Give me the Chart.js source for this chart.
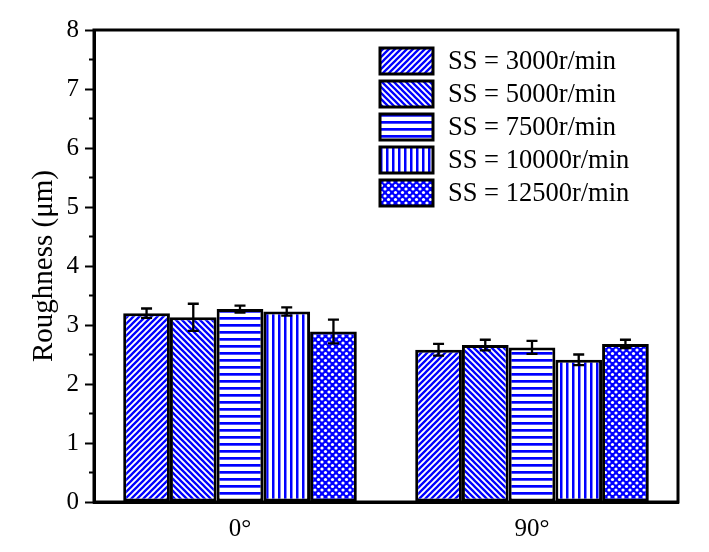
<!DOCTYPE html>
<html>
<head>
<meta charset="utf-8">
<script src="https://cdn.jsdelivr.net/npm/chart.js@4/dist/chart.umd.min.js"></script>
<style>
  html, body { margin: 0; padding: 0; background: #ffffff; }
  #wrap { width: 709px; height: 552px; position: relative; }
</style>
</head>
<body>
<div id="wrap"><canvas id="c" width="709" height="552"></canvas></div>
<script>
// ---- data ----
const categories = ['0°', '90°'];
const seriesLabels = ['SS = 3000r/min', 'SS = 5000r/min', 'SS = 7500r/min', 'SS = 10000r/min', 'SS = 12500r/min'];
const ss3000 = [3.20, 2.58];
const ss5000 = [3.13, 2.66];
const ss7500 = [3.27, 2.62];
const ss10000 = [3.23, 2.41];
const ss12500 = [2.89, 2.68];
const err3000 = [0.08, 0.10];
const err5000 = [0.23, 0.09];
const err7500 = [0.06, 0.11];
const err10000 = [0.07, 0.09];
const err12500 = [0.20, 0.07];
const yTicks = [0, 1, 2, 3, 4, 5, 6, 7, 8];

const BLUE = '#0000ff';
const FONT = "'Liberation Serif', 'Times New Roman', serif";

function makePattern(kind) {
  const c = document.createElement('canvas');
  const ctx = c.getContext('2d');
  let s;
  if (kind === 'fwd' || kind === 'back') {
    s = 6; c.width = s; c.height = s;
    ctx.fillStyle = '#fff'; ctx.fillRect(0, 0, s, s);
    ctx.strokeStyle = BLUE; ctx.lineWidth = 2.3;
    ctx.beginPath();
    if (kind === 'fwd') {
      ctx.moveTo(-1, 1); ctx.lineTo(1, -1);
      ctx.moveTo(0, s); ctx.lineTo(s, 0);
      ctx.moveTo(s - 1, s + 1); ctx.lineTo(s + 1, s - 1);
    } else {
      ctx.moveTo(-1, s - 1); ctx.lineTo(1, s + 1);
      ctx.moveTo(0, 0); ctx.lineTo(s, s);
      ctx.moveTo(s - 1, -1); ctx.lineTo(s + 1, 1);
    }
    ctx.stroke();
  } else if (kind === 'horiz') {
    s = 7; c.width = s; c.height = s;
    ctx.fillStyle = '#fff'; ctx.fillRect(0, 0, s, s);
    ctx.fillStyle = BLUE; ctx.fillRect(0, 2, s, 2.7);
  } else if (kind === 'vert') {
    s = 6; c.width = s; c.height = s;
    ctx.fillStyle = '#fff'; ctx.fillRect(0, 0, s, s);
    ctx.fillStyle = BLUE; ctx.fillRect(2, 0, 2.5, s);
  } else {
    s = 7; c.width = s; c.height = s;
    ctx.fillStyle = BLUE; ctx.fillRect(0, 0, s, s);
    ctx.fillStyle = '#fff';
    const pts = [[0, 0], [s, 0], [0, s], [s, s], [s / 2, s / 2]];
    pts.forEach(p => { ctx.beginPath(); ctx.arc(p[0], p[1], 1.6, 0, Math.PI * 2); ctx.fill(); });
  }
  return ctx.createPattern(c, 'repeat');
}

const patterns = [makePattern('fwd'), makePattern('back'), makePattern('horiz'), makePattern('vert'), makePattern('dots')];
const values = [ss3000, ss5000, ss7500, ss10000, ss12500];
const errors = [err3000, err5000, err7500, err10000, err12500];

const datasets = values.map((v, i) => ({
  label: seriesLabels[i],
  data: v,
  errors: errors[i],
  backgroundColor: patterns[i],
  borderColor: '#000',
  borderWidth: 3,
  borderSkipped: false,
  categoryPercentage: 0.8,
  barPercentage: 1.0
}));

const errorBarPlugin = {
  id: 'errorBars',
  afterDatasetsDraw(chart) {
    const ctx = chart.ctx;
    const y = chart.scales.y;
    ctx.save();
    ctx.strokeStyle = '#000';
    ctx.lineWidth = 2.3;
    chart.data.datasets.forEach((ds, di) => {
      const meta = chart.getDatasetMeta(di);
      meta.data.forEach((el, i) => {
        const v = ds.data[i], e = ds.errors[i];
        const yt = y.getPixelForValue(v + e), yb = y.getPixelForValue(v - e);
        const x = el.x, hw = 5.5;
        ctx.beginPath();
        ctx.moveTo(x, yt); ctx.lineTo(x, yb);
        ctx.moveTo(x - hw, yt); ctx.lineTo(x + hw, yt);
        ctx.moveTo(x - hw, yb); ctx.lineTo(x + hw, yb);
        ctx.stroke();
      });
    });
    ctx.restore();
  }
};

const framePlugin = {
  id: 'frame',
  afterDraw(chart) {
    const { ctx, chartArea: a } = chart;
    const y = chart.scales.y;
    ctx.save();
    ctx.strokeStyle = '#000';
    ctx.lineWidth = 3;
    ctx.strokeRect(a.left, a.top, a.right - a.left, a.bottom - a.top);
    // minor ticks
    ctx.lineWidth = 2;
    ctx.beginPath();
    for (let i = 0; i < yTicks.length - 1; i++) {
      const py = y.getPixelForValue(yTicks[i] + 0.5);
      ctx.moveTo(a.left - 5, py); ctx.lineTo(a.left, py);
    }
    ctx.stroke();
    ctx.restore();
  }
};

const legendPlugin = {
  id: 'boxLegend',
  afterDraw(chart) {
    const ctx = chart.ctx;
    const x0 = 380, y0 = 48, bw = 53, bh = 26, step = 33;
    ctx.save();
    chart.data.datasets.forEach((ds, i) => {
      const top = y0 + i * step;
      ctx.fillStyle = ds.backgroundColor;
      ctx.fillRect(x0, top, bw, bh);
      ctx.strokeStyle = '#000';
      ctx.lineWidth = 3;
      ctx.strokeRect(x0, top, bw, bh);
      ctx.fillStyle = '#000';
      ctx.font = '26.5px ' + FONT;
      ctx.textBaseline = 'middle';
      ctx.textAlign = 'left';
      ctx.fillText(ds.label, 448, top + bh / 2 + 1);
    });
    ctx.restore();
  }
};

new Chart(document.getElementById('c'), {
  type: 'bar',
  data: { labels: categories, datasets: datasets },
  plugins: [errorBarPlugin, framePlugin, legendPlugin],
  options: {
    responsive: false,
    animation: false,
    layout: { padding: { top: 30, right: 31, left: 0, bottom: 0 } },
    plugins: { legend: { display: false }, tooltip: { enabled: false } },
    scales: {
      x: {
        grid: { display: false, drawTicks: false },
        border: { display: true, color: '#000', width: 3 },
        ticks: { color: '#000', font: { family: FONT, size: 25 }, padding: 12 },
        afterFit(s) { s.height = 50; }
      },
      y: {
        min: 0, max: 8,
        afterBuildTicks(s) { s.ticks = yTicks.map(v => ({ value: v })); },
        grid: { drawOnChartArea: false, drawTicks: true, tickLength: 9, tickWidth: 2, tickColor: '#000' },
        border: { display: true, color: '#000', width: 3 },
        ticks: { color: '#000', font: { family: FONT, size: 25 }, padding: 6 },
        title: { display: true, text: 'Roughness (μm)', color: '#000', font: { family: FONT, size: 29 }, padding: { top: 27, bottom: 0 } },
        afterFit(s) { s.width = 94; }
      }
    }
  }
});
</script>
</body>
</html>
